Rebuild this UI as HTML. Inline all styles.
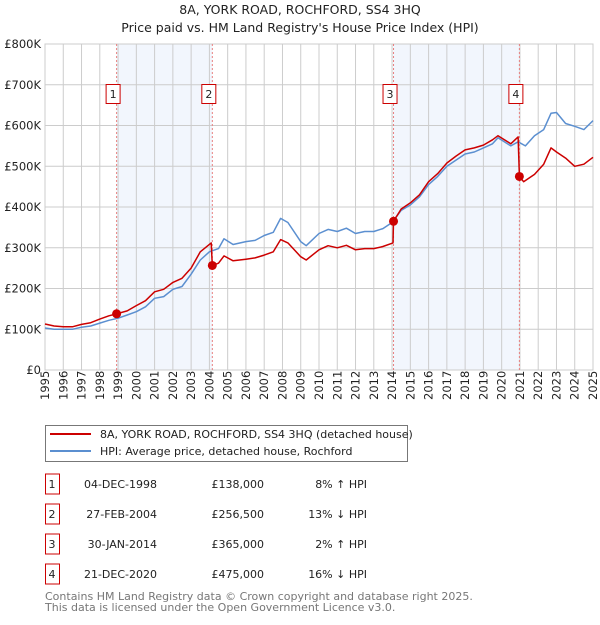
<!DOCTYPE html>
<html><head><meta charset="utf-8"><style>
body{margin:0;background:#fff;font-family:"Liberation Sans","DejaVu Sans",sans-serif;}
svg text{font-family:"DejaVu Sans","Liberation Sans",sans-serif;}
</style></head><body>
<svg id="chart" width="600" height="620" viewBox="0 0 600 620" xmlns="http://www.w3.org/2000/svg">
<text x="300" y="14" text-anchor="middle" font-size="12.5" fill="#222">8A, YORK ROAD, ROCHFORD, SS4 3HQ</text>
<text x="300" y="32" text-anchor="middle" font-size="12.5" fill="#222">Price paid vs. HM Land Registry's House Price Index (HPI)</text>
<g id="plot"></g>
<g>
<rect x="45.5" y="425.5" width="362" height="36" fill="#fff" stroke="#777"/>
<line x1="50" y1="434" x2="91" y2="434" stroke="#cc0000" stroke-width="2"/>
<text x="100" y="438" font-size="11" fill="#222">8A, YORK ROAD, ROCHFORD, SS4 3HQ (detached house)</text>
<line x1="50" y1="451" x2="91" y2="451" stroke="#5b8fd0" stroke-width="2"/>
<text x="100" y="455" font-size="11" fill="#222">HPI: Average price, detached house, Rochford</text>
</g>
<g id="table"></g>
<text x="45" y="600" font-size="11" fill="#777">Contains HM Land Registry data © Crown copyright and database right 2025.</text>
<text x="45" y="611" font-size="11" fill="#777">This data is licensed under the Open Government Licence v3.0.</text>
</svg>
<script>
const hpiYears=[1995,1995.5,1996,1996.5,1997,1997.5,1998,1998.5,1999,1999.5,2000,2000.5,2001,2001.5,2002,2002.5,2003,2003.5,2004,2004.5,2004.8,2005.3,2006,2006.5,2007,2007.5,2007.9,2008.3,2009,2009.3,2010,2010.5,2011,2011.5,2012,2012.5,2013,2013.5,2014,2014.5,2015,2015.5,2016,2016.5,2017,2017.5,2018,2018.5,2019,2019.5,2019.8,2020.5,2020.9,2021.3,2021.8,2022.3,2022.7,2023,2023.5,2024,2024.5,2025];
const hpiValues=[103,100,100,100,105,108,115,122,127,135,143,155,176,180,198,205,235,270,290,298,322,308,315,318,330,338,372,362,315,305,335,345,340,348,335,340,340,347,362,392,405,425,455,475,500,515,530,535,545,555,570,550,560,550,575,590,630,632,605,598,590,612];
const ppYears=[1995,1995.5,1996,1996.5,1997,1997.5,1998,1998.5,1998.92,1999.5,2000,2000.5,2001,2001.5,2002,2002.5,2003,2003.5,2004.1,2004.16,2004.5,2004.8,2005.3,2006,2006.5,2007,2007.5,2007.9,2008.3,2009,2009.3,2010,2010.5,2011,2011.5,2012,2012.5,2013,2013.5,2014.05,2014.08,2014.5,2015,2015.5,2016,2016.5,2017,2017.5,2018,2018.5,2019,2019.5,2019.8,2020.5,2020.9,2020.97,2021.2,2021.8,2022.3,2022.7,2023,2023.5,2024,2024.5,2025];
const ppValues=[113,108,106,106,112,116,125,133,138,145,158,170,192,198,215,225,250,290,312,256.5,262,280,268,272,275,282,290,320,312,278,270,295,305,300,306,295,298,298,303,312,365,395,410,430,462,482,508,525,540,545,552,565,575,555,572,475,462,480,505,545,535,520,500,505,522];
const saleLabels=["1","2","3","4"];
const saleYears=[1998.92,2004.16,2014.08,2020.97];
const salePrices=[138,256.5,365,475];
const saleDates=["04-DEC-1998","27-FEB-2004","30-JAN-2014","21-DEC-2020"];
const salePriceText=["£138,000","£256,500","£365,000","£475,000"];
const saleHpiText=["8% ↑ HPI","13% ↓ HPI","2% ↑ HPI","16% ↓ HPI"];
const yTicks=[0,100,200,300,400,500,600,700,800];
const yTickLabels=["£0","£100K","£200K","£300K","£400K","£500K","£600K","£700K","£800K"];
const xTicks=[1995,1996,1997,1998,1999,2000,2001,2002,2003,2004,2005,2006,2007,2008,2009,2010,2011,2012,2013,2014,2015,2016,2017,2018,2019,2020,2021,2022,2023,2024,2025];

const NS="http://www.w3.org/2000/svg";
const X0=45,X1=593,Y0=370,Y1=44;
const xs=y=>X0+(y-1995)/30*(X1-X0);
const ys=v=>Y0-v/800*(Y0-Y1);
const plot=document.getElementById('plot');
function mk(tag,attrs,parent){const e=document.createElementNS(NS,tag);for(const k in attrs)e.setAttribute(k,attrs[k]);(parent||plot).appendChild(e);return e;}

for(let i=0;i<4;i+=2){
  const r=mk('rect',{x:xs(saleYears[i]),y:Y1,width:xs(saleYears[i+1])-xs(saleYears[i]),height:Y0-Y1,fill:'#f2f6fd'});
  
  
}
xTicks.forEach(t=>{const l=mk('line',{x1:xs(t),x2:xs(t),y1:Y1,y2:Y0,stroke:'#cccccc','stroke-width':1});
  
  
  const tx=mk('text',{x:0,y:0,transform:`translate(${xs(t)+4},${Y0+30}) rotate(-90)`,'font-size':11.5,fill:'#222'});
  tx.textContent=t;
  
  
});
yTicks.forEach((t,i)=>{const l=mk('line',{x1:X0,x2:X1,y1:ys(t),y2:ys(t),stroke:'#cccccc','stroke-width':1});
  
  
  const tx=mk('text',{x:X0-4,y:ys(t)+4,'text-anchor':'end','font-size':11.5,fill:'#222'});
  tx.textContent=yTickLabels[i];
  
  
});
const frame=mk('rect',{x:X0,y:Y1,width:X1-X0,height:Y0-Y1,fill:'none',stroke:'#cccccc'});


saleYears.forEach((s,i)=>{const l=mk('line',{x1:xs(s),x2:xs(s),y1:Y1,y2:Y0,stroke:'#e88080','stroke-width':1,'stroke-dasharray':'2,2'});
  
  
});
function path(xsArr,vArr,color,name){
  const d=xsArr.map((x,i)=>(i?'L':'M')+xs(x).toFixed(1)+','+ys(vArr[i]).toFixed(1)).join('');
  const p=mk('path',{d,fill:'none',stroke:color,'stroke-width':1.5,'stroke-linejoin':'round'});
  
  
}
path(hpiYears,hpiValues,'#5b8fd0','hpi-line');
path(ppYears,ppValues,'#cc0000','price-paid-line');
saleYears.forEach((s,i)=>{
  const c=mk('circle',{cx:xs(s),cy:ys(salePrices[i]),r:4.5,fill:'#cc0000'});
  
  
  const b=mk('rect',{x:xs(s)-10.5,y:84.5,width:14,height:19,fill:'#fff',stroke:'#cc0000'});
  
  
  const t=mk('text',{x:xs(s)-3.5,y:98,'text-anchor':'middle','font-size':11,fill:'#222'});
  t.textContent=saleLabels[i];
  
  
});
const tbl=document.getElementById('table');
saleLabels.forEach((lab,i)=>{
  const cy=484+i*30;
  const b=mk('rect',{x:45.5,y:cy-10,width:14,height:20,fill:'#fff',stroke:'#cc0000'},tbl);
  
  
  const cells=[[52,'middle',lab,'row-number'],[157,'end',saleDates[i],'row-date'],[264,'end',salePriceText[i],'row-price'],[367,'end',saleHpiText[i],'row-hpi-diff']];
  cells.forEach(c=>{const t=mk('text',{x:c[0],y:cy+4,'text-anchor':c[1],'font-size':11,fill:'#222'},tbl);
    t.textContent=c[2];
    
    
  });
});
</script>
</body></html>
